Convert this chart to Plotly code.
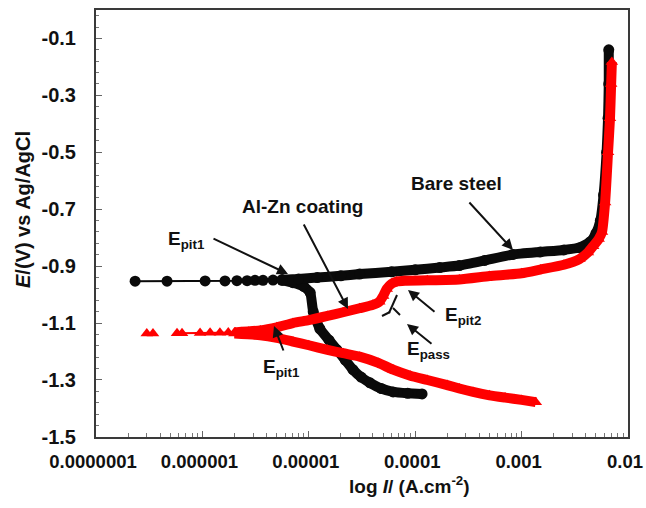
import plotly.graph_objects as go

# ---------------- data ----------------
# Bare steel (black circles)
bare_ecorr_i = [2.33e-7, 4.65e-7, 1.06e-6, 1.63e-6, 2.11e-6, 2.63e-6, 3.12e-6, 3.71e-6, 4.61e-6, 5.6e-6]
bare_ecorr_e = [-0.953, -0.953, -0.952, -0.952, -0.951, -0.951, -0.950, -0.950, -0.949, -0.948]

bare_cath_i = [5.6e-6, 7.1e-6, 9.0e-6, 1.03e-5, 1.1e-5, 1.27e-5, 1.55e-5, 1.84e-5, 2.2e-5, 2.6e-5,
               3.1e-5, 3.76e-5, 4.8e-5, 6.2e-5, 8.5e-5, 1.16e-4]
bare_cath_e = [-0.950, -0.958, -0.972, -0.993, -1.060, -1.120, -1.160, -1.194, -1.230, -1.264,
               -1.290, -1.310, -1.330, -1.342, -1.347, -1.349]

bare_anod_i = [5.6e-6, 8.0e-6, 1.2e-5, 2.0e-5, 3.0e-5, 6.0e-5, 1.0e-4, 1.7e-4, 2.6e-4, 4.5e-4,
               8.3e-4, 1.5e-3, 2.5e-3, 3.5e-3, 4.4e-3, 5.0e-3, 5.5e-3, 5.9e-3, 6.3e-3, 6.5e-3,
               6.6e-3, 6.6e-3]
bare_anod_e = [-0.948, -0.945, -0.940, -0.934, -0.928, -0.920, -0.913, -0.905, -0.898, -0.880,
               -0.859, -0.850, -0.843, -0.835, -0.815, -0.785, -0.740, -0.650, -0.500, -0.380,
               -0.260, -0.140]

# Al-Zn coating (red triangles)
alzn_ecorr_i = [3.0e-7, 3.43e-7, None, 5.77e-7, 6.43e-7, 9.5e-7, 1.18e-6, 1.46e-6, 1.75e-6, 2.05e-6,
                2.35e-6, 2.7e-6, 3.05e-6, 3.45e-6, 3.9e-6]
alzn_ecorr_e = [-1.137, -1.137, None, -1.136, -1.136, -1.135, -1.134, -1.134, -1.133, -1.133,
                -1.132, -1.131, -1.130, -1.129, -1.128]

alzn_cath_i = [2.0e-6, 3.5e-6, 5.0e-6, 7.1e-6, 1.0e-5, 1.5e-5, 2.1e-5, 3.0e-5, 4.5e-5, 6.2e-5,
               9.0e-5, 1.3e-4, 2.0e-4, 2.6e-4, 3.5e-4, 5.0e-4, 7.0e-4, 1.0e-3, 1.36e-3]
alzn_cath_e = [-1.137, -1.143, -1.152, -1.165, -1.178, -1.194, -1.206, -1.218, -1.240, -1.264,
               -1.285, -1.300, -1.318, -1.330, -1.342, -1.354, -1.362, -1.370, -1.378]

alzn_anod_i = [2.0e-6, 3.5e-6, 5.0e-6, 7.1e-6, 1.0e-5, 1.5e-5, 2.1e-5, 3.0e-5, 4.0e-5, 4.6e-5,
               5.0e-5, 5.4e-5, 6.0e-5, 6.7e-5, 8.0e-5, 1.3e-4, 2.6e-4, 5.0e-4, 1.0e-3, 1.5e-3,
               2.5e-3, 3.5e-3, 4.2e-3, 4.7e-3, 5.3e-3, 5.7e-3, 6.1e-3, 6.5e-3, 6.78e-3, 6.95e-3, 7.06e-3]
alzn_anod_e = [-1.133, -1.126, -1.115, -1.100, -1.090, -1.075, -1.062, -1.048, -1.036, -1.025,
               -1.005, -0.980, -0.962, -0.954, -0.951, -0.950, -0.947, -0.935, -0.925, -0.912,
               -0.895, -0.875, -0.852, -0.830, -0.805, -0.780, -0.676, -0.500, -0.380, -0.260, -0.183]

x_tickvals = [1e-7, 1e-6, 1e-5, 1e-4, 1e-3, 1e-2]
x_ticktext = ["0.0000001", "0.000001", "0.00001", "0.0001", "0.001", "0.01"]
y_tickvals = [-0.1, -0.3, -0.5, -0.7, -0.9, -1.1, -1.3, -1.5]
y_ticktext = ["-0.1", "-0.3", "-0.5", "-0.7", "-0.9", "-1.1", "-1.3", "-1.5"]

# ---------------- styling ----------------
BLACK = "#0a0a0a"
RED = "#ff0000"
FONT = "Liberation Sans"
AXC = "#3a3a3a"

fig = go.Figure()

def thick(x, y, color, symbol, name):
    fig.add_trace(go.Scatter(
        x=x, y=y, mode="lines+markers", name=name,
        line=dict(color=color, width=10, shape="spline", smoothing=0.5),
        marker=dict(color=color, size=11, symbol=symbol),
        showlegend=False, hoverinfo="skip"))

def thin(x, y, color, symbol, name):
    fig.add_trace(go.Scatter(
        x=x, y=y, mode="lines+markers", name=name,
        line=dict(color=color, width=2),
        marker=dict(color=color, size=11, symbol=symbol),
        connectgaps=False, showlegend=False, hoverinfo="skip"))

thin(bare_ecorr_i, bare_ecorr_e, BLACK, "circle", "Bare steel")
thick(bare_cath_i, bare_cath_e, BLACK, "circle", "Bare steel")
thick(bare_anod_i, bare_anod_e, BLACK, "circle", "Bare steel")
thin(alzn_ecorr_i, alzn_ecorr_e, RED, "triangle-up", "Al-Zn coating")
thick(alzn_cath_i, alzn_cath_e, RED, "triangle-up", "Al-Zn coating")
thick(alzn_anod_i, alzn_anod_e, RED, "triangle-up", "Al-Zn coating")

# plot-area geometry in pixels (for annotation placement)
L, R, T, B = 96, 628, 10, 437
def P(px, py):
    return (px - L) / (R - L), (B - py) / (B - T)

annotations = []
def label(text, px, py, size=19):
    x, y = P(px, py)
    annotations.append(dict(x=x, y=y, xref="paper", yref="paper", text=text, showarrow=False,
                            font=dict(family=FONT, size=size, color="#111", weight="bold"),
                            xanchor="center", yanchor="middle"))

def arrow(tx, ty, hx, hy):
    x, y = P(hx, hy)
    annotations.append(dict(x=x, y=y, xref="paper", yref="paper", text="", showarrow=True,
                            ax=tx - hx, ay=ty - hy, axref="pixel", ayref="pixel",
                            arrowhead=2, arrowsize=1.1, arrowwidth=2, arrowcolor="#111",
                            standoff=0, startstandoff=0))

label("Bare steel", 456, 183)
label("Al-Zn coating", 302, 207)
label("E<sub>pit1</sub>", 186, 240)
label("E<sub>pit1</sub>", 281, 368)
label("E<sub>pit2</sub>", 463, 316)
label("E<sub>pass</sub>", 428, 350)

arrow(468, 201, 513, 250)
arrow(303, 223, 348, 309)
arrow(212, 238, 288, 274)
arrow(284, 352, 274, 326)
arrow(436, 313, 408, 290)
arrow(433, 345, 407, 324)

# axis titles
xt, yt = P(409, 485)
annotations.append(dict(x=xt, y=yt, xref="paper", yref="paper", showarrow=False,
                        text="log <i>I</i>/ (A.cm<sup>-2</sup>)",
                        font=dict(family=FONT, size=19, color="#111", weight="bold"),
                        xanchor="center", yanchor="middle"))
xt, yt = P(23, 210)
annotations.append(dict(x=xt, y=yt, xref="paper", yref="paper", showarrow=False,
                        text="<i>E</i>/(V) vs Ag/AgCl", textangle=-90,
                        font=dict(family=FONT, size=20, color="#111", weight="bold"),
                        xanchor="center", yanchor="middle"))

# E_pass tangent marks
shapes = []
for (x0, y0, x1, y1) in [(382, 316, 390, 312), (389, 313, 397, 295), (393, 308, 400, 315)]:
    a0, b0 = P(x0, y0)
    a1, b1 = P(x1, y1)
    shapes.append(dict(type="line", xref="paper", yref="paper", x0=a0, y0=b0, x1=a1, y1=b1,
                       line=dict(color="#111", width=2)))

minor_x = [m * 10.0 ** e for e in range(-7, -2) for m in range(2, 10)]

fig.update_layout(
    width=646, height=508,
    margin=dict(l=L, r=646 - R, t=T, b=508 - B, autoexpand=False),
    paper_bgcolor="white", plot_bgcolor="white",
    showlegend=False,
    annotations=annotations, shapes=shapes,
    font=dict(family=FONT, color="#111"),
)
fig.update_xaxes(
    type="log", range=[-7.0004, -1.9996], automargin=False,
    tickmode="array", tickvals=x_tickvals, ticktext=x_ticktext,
    ticks="inside", ticklen=6, tickwidth=1, tickcolor="#666",
    tickfont=dict(family=FONT, size=18.5, color="#111", weight="bold"),
    ticklabelstandoff=7, ticklabelshift=-3,
    showline=True, linecolor=AXC, linewidth=2, mirror=True,
    showgrid=False, zeroline=False,
    minor=dict(tickmode="array", tickvals=minor_x, ticks="inside", ticklen=4,
               tickcolor="#777", tickwidth=1, showgrid=False),
)
fig.update_yaxes(
    range=[-1.5004, 0.0], automargin=False,
    tickmode="array", tickvals=y_tickvals, ticktext=y_ticktext,
    ticks="inside", ticklen=6, tickwidth=1, tickcolor="#666",
    tickfont=dict(family=FONT, size=20, color="#111", weight="bold"),
    ticklabelstandoff=14,
    showline=True, linecolor=AXC, linewidth=2, mirror=True,
    showgrid=False, zeroline=False,
    minor=dict(tick0=-0.1, dtick=0.04, ticks="inside", ticklen=3,
               tickcolor="#777", tickwidth=1, showgrid=False),
)

fig.write_html("out.html")
